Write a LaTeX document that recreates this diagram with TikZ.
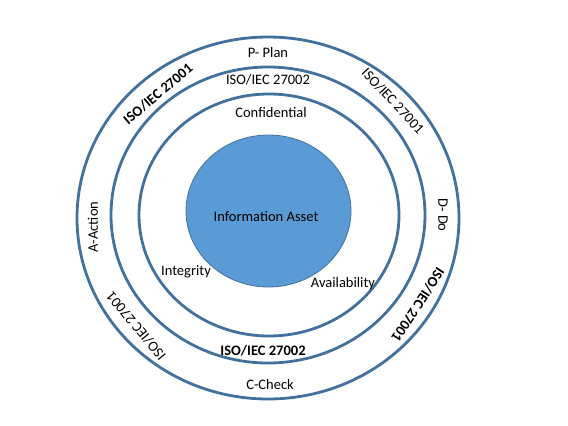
\documentclass[tikz,border=0pt]{standalone}
\usepackage{fontspec}
\setmainfont{Carlito}
\begin{document}
\begin{tikzpicture}[x=1pt,y=-1pt,
  ring/.style={draw=ringc, line width=2.8pt},
  lbl/.style={inner sep=0pt, font=\fontsize{14.5}{16}\selectfont, text=black},
  blbl/.style={lbl, font=\fontsize{14.5}{16}\selectfont\bfseries}]
\definecolor{ringc}{HTML}{41719C}
\definecolor{assetc}{HTML}{5B9BD5}
\useasboundingbox (0,0) rectangle (568,426);
\fill[white] (0,0) rectangle (568,426);
% rings
\draw[ring] (268,218) ellipse [x radius=191, y radius=181];
\draw[ring] (268,215) ellipse [x radius=157, y radius=148];
\draw[ring] (269,215) ellipse [x radius=130, y radius=121];
\draw[fill=assetc, draw=ringc, line width=0.8pt] (268.5,211) ellipse [x radius=82.5, y radius=76];
% texts
\node[lbl] (asset) at (266,217) {Information Asset};
\node[lbl] (plan) at (268,53) {P- Plan};
\node[lbl] (iso2t) at (268,80) {ISO/IEC 27002};
\node[lbl] (conf) at (271,113) {Confidential};
\node[lbl] (integ) at (186,272) {Integrity};
\node[lbl] (avail) at (343,284) {Availability};
\node[blbl] (iso2b) at (263,351) {ISO/IEC 27002};
\node[lbl] (check) at (270,385) {C-Check};
\node[lbl, rotate=90] (action) at (93,227) {A-Action};
\node[lbl, rotate=-90] (do) at (443,215) {D- Do};
\node[blbl, rotate=40] (isotl) at (158,94) {ISO/IEC 27001};
\node[lbl, rotate=-47] (isotr) at (393,101) {ISO/IEC 27001};
\node[lbl, rotate=130] (isobl) at (136,326) {ISO/IEC 27001};
\node[blbl, rotate=-123] (isobr) at (418,305) {ISO/IEC 27001};
\end{tikzpicture}
\end{document}
